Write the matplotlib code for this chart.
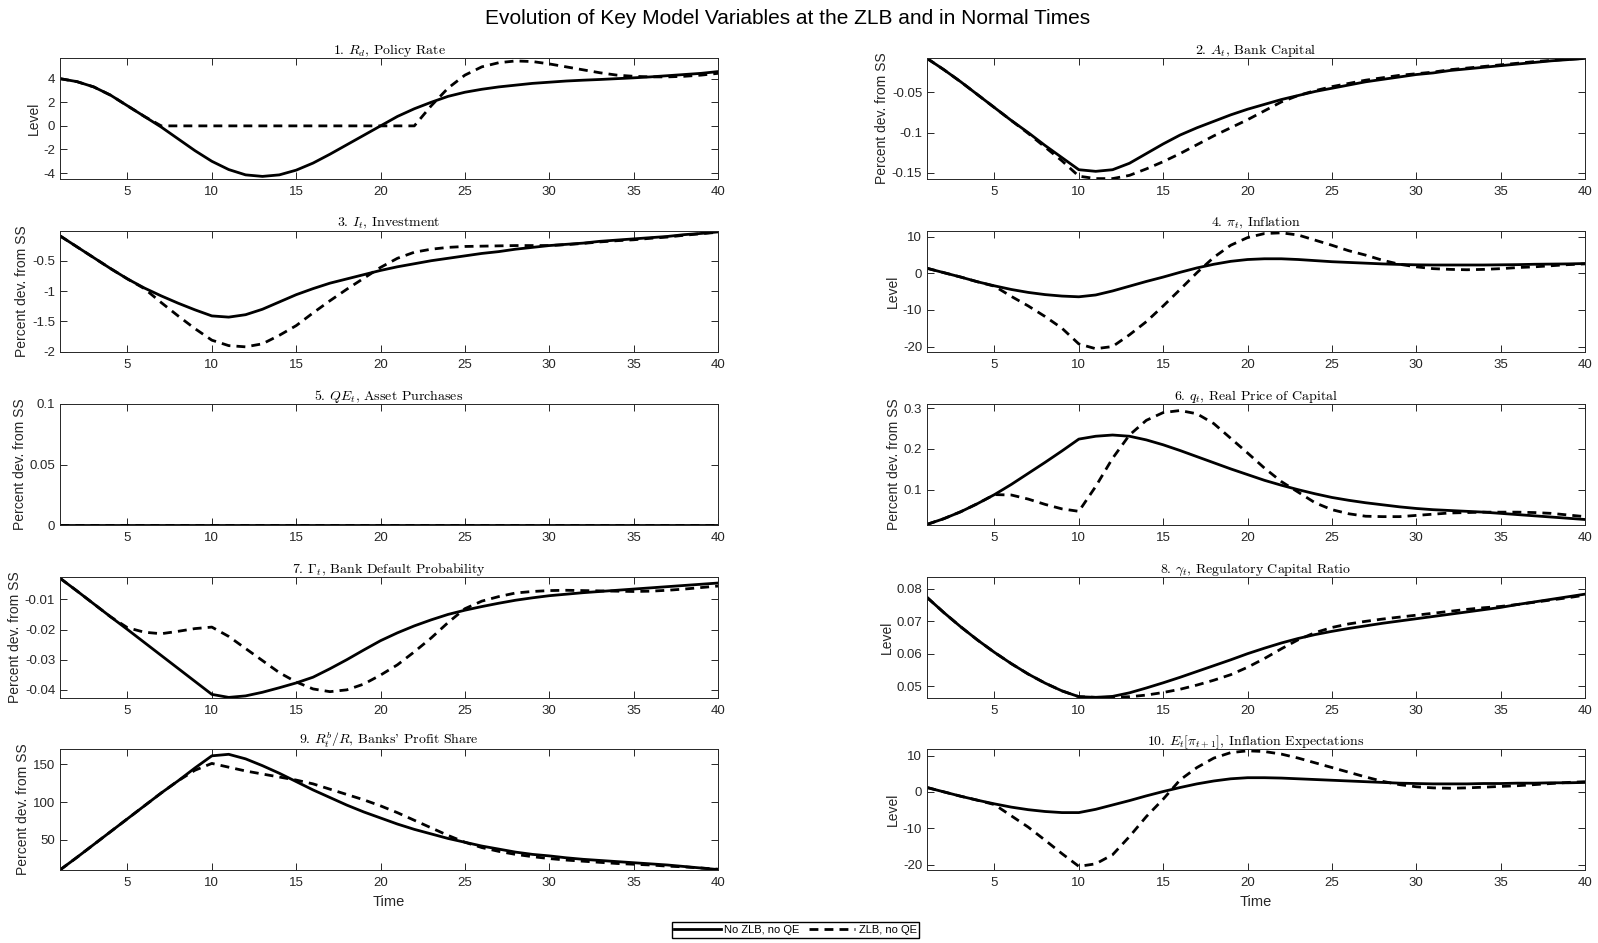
import numpy as np
import matplotlib
matplotlib.use("Agg")
import matplotlib.pyplot as plt
from matplotlib.ticker import FixedLocator, FuncFormatter

plt.rcParams["font.family"] = ["Liberation Sans", "DejaVu Sans"]
plt.rcParams["mathtext.fontset"] = "cm"
plt.rcParams["axes.unicode_minus"] = False

t = np.arange(1, 41)

# 1. policy rate
rd_nozlb = [4.0, 3.75, 3.3, 2.6, 1.7, 0.8, -0.1, -1.1, -2.1, -3.0,
            -3.7, -4.15, -4.28, -4.15, -3.75, -3.15, -2.4, -1.6, -0.8, 0.0,
            0.8, 1.45, 2.0, 2.5, 2.85, 3.1, 3.3, 3.45, 3.6, 3.7,
            3.8, 3.87, 3.93, 4.0, 4.07, 4.15, 4.25, 4.35, 4.45, 4.6]
rd_zlb = [4.0, 3.75, 3.3, 2.6, 1.7, 0.8, 0.0, 0.0, 0.0, 0.0,
          0.0, 0.0, 0.0, 0.0, 0.0, 0.0, 0.0, 0.0, 0.0, 0.0,
          0.0, 0.0, 1.7, 3.2, 4.3, 5.0, 5.35, 5.5, 5.45, 5.25,
          5.0, 4.75, 4.5, 4.3, 4.2, 4.15, 4.15, 4.2, 4.3, 4.45]

# 2. bank capital
a_nozlb = [-0.008, -0.022, -0.037, -0.053, -0.069, -0.085, -0.100, -0.116, -0.131, -0.146,
           -0.148, -0.146, -0.138, -0.126, -0.114, -0.103, -0.094, -0.086, -0.078, -0.071,
           -0.065, -0.059, -0.054, -0.049, -0.045, -0.041, -0.037, -0.034, -0.031, -0.028,
           -0.026, -0.023, -0.021, -0.019, -0.017, -0.015, -0.013, -0.011, -0.0095, -0.008]
a_zlb = [-0.008, -0.022, -0.037, -0.053, -0.069, -0.085, -0.101, -0.118, -0.135, -0.154,
         -0.157, -0.157, -0.153, -0.145, -0.136, -0.126, -0.115, -0.104, -0.094, -0.084,
         -0.073, -0.062, -0.054, -0.048, -0.043, -0.039, -0.035, -0.032, -0.029, -0.027,
         -0.025, -0.022, -0.020, -0.018, -0.016, -0.014, -0.012, -0.0105, -0.009, -0.008]

# 3. investment
i_nozlb = [-0.09, -0.27, -0.45, -0.63, -0.80, -0.95, -1.08, -1.20, -1.31, -1.41,
           -1.43, -1.39, -1.30, -1.18, -1.06, -0.96, -0.87, -0.80, -0.73, -0.66,
           -0.60, -0.55, -0.50, -0.46, -0.42, -0.38, -0.35, -0.31, -0.28, -0.25,
           -0.23, -0.21, -0.18, -0.16, -0.14, -0.12, -0.10, -0.07, -0.05, -0.025]
i_zlb = [-0.09, -0.27, -0.45, -0.63, -0.80, -0.96, -1.19, -1.41, -1.62, -1.81,
         -1.90, -1.92, -1.87, -1.73, -1.57, -1.36, -1.16, -0.97, -0.79, -0.61,
         -0.46, -0.36, -0.31, -0.28, -0.265, -0.26, -0.255, -0.25, -0.25, -0.25,
         -0.235, -0.215, -0.19, -0.17, -0.155, -0.13, -0.11, -0.08, -0.055, -0.03]

# 4. inflation
pi_nozlb = [1.4, 0.2, -1.0, -2.3, -3.4, -4.4, -5.2, -5.8, -6.2, -6.4,
            -5.9, -4.8, -3.5, -2.2, -1.0, 0.3, 1.5, 2.5, 3.3, 3.8,
            4.0, 4.0, 3.8, 3.5, 3.2, 3.0, 2.8, 2.6, 2.45, 2.35,
            2.3, 2.3, 2.3, 2.3, 2.35, 2.4, 2.5, 2.55, 2.6, 2.7]
pi_zlb = [1.4, 0.2, -1.0, -2.3, -3.5, -6.3, -8.9, -11.8, -15.0, -19.3,
          -20.6, -20.0, -16.8, -13.2, -8.9, -4.4, 0.2, 4.4, 7.7, 9.8,
          10.9, 11.1, 10.5, 9.1, 7.7, 6.2, 5.0, 3.6, 2.5, 1.8,
          1.3, 1.1, 1.0, 1.1, 1.3, 1.6, 1.8, 2.1, 2.4, 2.6]

# 5. asset purchases
qe_nozlb = [0.0] * 40
qe_zlb = [0.0] * 40

# 6. real price of capital
q_nozlb = [0.015, 0.029, 0.046, 0.066, 0.088, 0.113, 0.140, 0.167, 0.195, 0.224,
           0.231, 0.234, 0.231, 0.222, 0.210, 0.196, 0.181, 0.166, 0.151, 0.137,
           0.123, 0.111, 0.100, 0.090, 0.081, 0.074, 0.068, 0.063, 0.058, 0.054,
           0.051, 0.049, 0.047, 0.045, 0.042, 0.039, 0.036, 0.033, 0.030, 0.027]
q_zlb = [0.015, 0.029, 0.046, 0.066, 0.088, 0.087, 0.077, 0.064, 0.053, 0.047,
         0.108, 0.177, 0.234, 0.270, 0.289, 0.294, 0.286, 0.262, 0.226, 0.190,
         0.153, 0.120, 0.094, 0.068, 0.051, 0.041, 0.035, 0.034, 0.034, 0.037,
         0.040, 0.043, 0.044, 0.045, 0.045, 0.045, 0.044, 0.042, 0.038, 0.034]

# 7. bank default probability
gam_nozlb = [-0.0030, -0.0072, -0.0115, -0.0158, -0.0200, -0.0243, -0.0286, -0.0329, -0.0372, -0.0415,
             -0.0425, -0.0420, -0.0408, -0.0393, -0.0377, -0.0358, -0.0330, -0.0300, -0.0268, -0.0237,
             -0.0211, -0.0188, -0.0168, -0.0150, -0.0136, -0.0124, -0.0113, -0.0103, -0.0095, -0.0088,
             -0.0083, -0.0078, -0.0074, -0.0070, -0.0066, -0.0062, -0.0058, -0.0054, -0.0050, -0.0046]
gam_zlb = [-0.0030, -0.0072, -0.0115, -0.0158, -0.0194, -0.0209, -0.0214, -0.0206, -0.0197, -0.0192,
           -0.0223, -0.0263, -0.0303, -0.0343, -0.0374, -0.0397, -0.0406, -0.0400, -0.0381, -0.0351,
           -0.0317, -0.0274, -0.0228, -0.0177, -0.0131, -0.0106, -0.0091, -0.0079, -0.0074, -0.0071,
           -0.0070, -0.0071, -0.0072, -0.0073, -0.0074, -0.0073, -0.0070, -0.0066, -0.0061, -0.0056]

# 8. regulatory capital ratio
cap_nozlb = [0.0774, 0.0727, 0.0683, 0.0642, 0.0604, 0.0569, 0.0537, 0.0509, 0.0485, 0.0467,
             0.0465, 0.0468, 0.0479, 0.0494, 0.0510, 0.0527, 0.0545, 0.0563, 0.0581, 0.0600,
             0.0617, 0.0633, 0.0647, 0.0659, 0.0669, 0.0678, 0.0686, 0.0694, 0.0701, 0.0708,
             0.0715, 0.0722, 0.0729, 0.0736, 0.0743, 0.0752, 0.0760, 0.0768, 0.0776, 0.0784]
cap_zlb = [0.0774, 0.0727, 0.0683, 0.0642, 0.0604, 0.0569, 0.0537, 0.0509, 0.0485, 0.0467,
           0.0465, 0.0465, 0.0467, 0.0472, 0.0480, 0.0490, 0.0503, 0.0518, 0.0535, 0.0558,
           0.0585, 0.0615, 0.0643, 0.0665, 0.0681, 0.0692, 0.0700, 0.0707, 0.0713, 0.0719,
           0.0725, 0.0731, 0.0737, 0.0742, 0.0746, 0.0752, 0.0759, 0.0766, 0.0773, 0.0781]

# 9. banks' profit share
rb_nozlb = [10.5, 27, 44, 61, 78, 95, 112, 128, 145, 161,
            163, 157, 148, 138, 127, 116, 106, 96, 87, 79,
            71, 64, 58, 52, 47, 42, 38, 34, 31, 29,
            26.5, 24.5, 23, 21.5, 20, 18.5, 17, 15, 13, 11]
rb_zlb = [10.5, 27, 44, 61, 78, 95, 112, 128, 142, 151,
          146, 141, 137, 133, 129, 124, 117, 110, 103, 95,
          86, 76, 66, 56, 47, 40, 35, 31, 28, 25.5,
          23.5, 22, 20.5, 19, 18, 17, 15.5, 14.5, 13, 11.5]

# 10. inflation expectations
epi_nozlb = [1.2, 0.0, -1.2, -2.3, -3.3, -4.2, -4.9, -5.4, -5.7, -5.7,
             -4.8, -3.6, -2.4, -1.1, 0.1, 1.2, 2.2, 3.0, 3.6, 3.9,
             3.9, 3.8, 3.6, 3.4, 3.2, 3.0, 2.8, 2.6, 2.4, 2.3,
             2.2, 2.2, 2.2, 2.3, 2.3, 2.4, 2.4, 2.5, 2.5, 2.6]
epi_zlb = [1.2, 0.0, -1.2, -2.3, -3.5, -6.6, -9.7, -13.3, -17.0, -20.5,
           -19.8, -17.3, -12.3, -6.8, -2.0, 3.3, 6.7, 9.3, 10.8, 11.3,
           11.1, 10.4, 9.3, 8.0, 6.7, 5.4, 4.1, 2.9, 2.0, 1.4,
           1.1, 1.0, 1.1, 1.3, 1.5, 1.7, 2.0, 2.3, 2.6, 2.8]

titles = [r"1. $R_d$, Policy Rate", r"2. $A_t$, Bank Capital",
          r"3. $I_t$, Investment", r"4. $\pi_t$, Inflation",
          r"5. $QE_t$, Asset Purchases", r"6. $q_t$, Real Price of Capital",
          r"7. $\Gamma_t$, Bank Default Probability", r"8. $\gamma_t$, Regulatory Capital Ratio",
          r"9. $R^b_t/R$, Banks' Profit Share", r"10. $E_t[\pi_{t+1}]$, Inflation Expectations"]
ylabels = ["Level", "Percent dev. from SS", "Percent dev. from SS", "Level",
           "Percent dev. from SS", "Percent dev. from SS", "Percent dev. from SS", "Level",
           "Percent dev. from SS", "Level"]
series = [(rd_nozlb, rd_zlb), (a_nozlb, a_zlb), (i_nozlb, i_zlb), (pi_nozlb, pi_zlb),
          (qe_nozlb, qe_zlb), (q_nozlb, q_zlb), (gam_nozlb, gam_zlb), (cap_nozlb, cap_zlb),
          (rb_nozlb, rb_zlb), (epi_nozlb, epi_zlb)]
yticks = [[-4, -2, 0, 2, 4], [-0.15, -0.1, -0.05], [-2, -1.5, -1, -0.5], [-20, -10, 0, 10],
          [0, 0.05, 0.1], [0.1, 0.2, 0.3], [-0.04, -0.03, -0.02, -0.01], [0.05, 0.06, 0.07, 0.08],
          [50, 100, 150], [-20, -10, 0, 10]]
ylims = [(-4.5, 5.75), (-0.1575, -0.0075), (-2.005, -0.01), (-21.5, 11.6),
         (0, 0.1), (0.0135, 0.31), (-0.0427, -0.0026), (0.0463, 0.0837),
         (10.4, 170), (-21.5, 11.8)]

fig = plt.figure(figsize=(15.98, 9.43), dpi=100)
fig.suptitle("Evolution of Key Model Variables at the ZLB and in Normal Times",
             fontsize=15, x=0.493, y=0.99)

W, H = 1598.0, 943.0
col_left = [60, 927]
row_top = [58, 231, 404, 577, 749]
ax_w = 658
ax_h = 121
axc = "#262626"

for k in range(10):
    r, c = divmod(k, 2)
    ax = fig.add_axes([col_left[c] / W, 1 - (row_top[r] + ax_h) / H, ax_w / W, ax_h / H])
    s_no, s_zlb = series[k]
    l1, = ax.plot(t, s_no, color="black", lw=2.0, ls="-")
    l2, = ax.plot(t, s_zlb, color="black", lw=2.0, ls=(0, (3.2, 2.2)))
    ax.set_xlim(1, 40)
    ax.set_ylim(*ylims[k])
    ax.xaxis.set_major_locator(FixedLocator([5, 10, 15, 20, 25, 30, 35, 40]))
    ax.yaxis.set_major_locator(FixedLocator(yticks[k]))
    ax.yaxis.set_major_formatter(FuncFormatter(lambda v, p: "%g" % v))
    ax.tick_params(direction="in", top=True, right=True, length=5, width=0.7,
                   colors=axc, labelsize=9.5)
    ax.tick_params(axis="x", pad=5)
    for sp in ax.spines.values():
        sp.set_color(axc)
        sp.set_linewidth(0.7)
    ax.set_title(titles[k], family="cmr10", fontsize=10, pad=3)
    ax.set_ylabel(ylabels[k], fontsize=10, color=axc, labelpad=2)
    if r == 4:
        ax.set_xlabel("Time", fontsize=10.5, color=axc, labelpad=4)

fig.legend([l1, l2], ["No ZLB, no QE", "ZLB, no QE"], loc="center",
           bbox_to_anchor=(0.4978, 0.0135), ncol=2, fontsize=8, frameon=True,
           fancybox=False, framealpha=1, edgecolor="black", handlelength=4.2,
           handletextpad=0.3, columnspacing=0.8, borderpad=0.25, borderaxespad=0)

fig.savefig("out.png", dpi=100)
